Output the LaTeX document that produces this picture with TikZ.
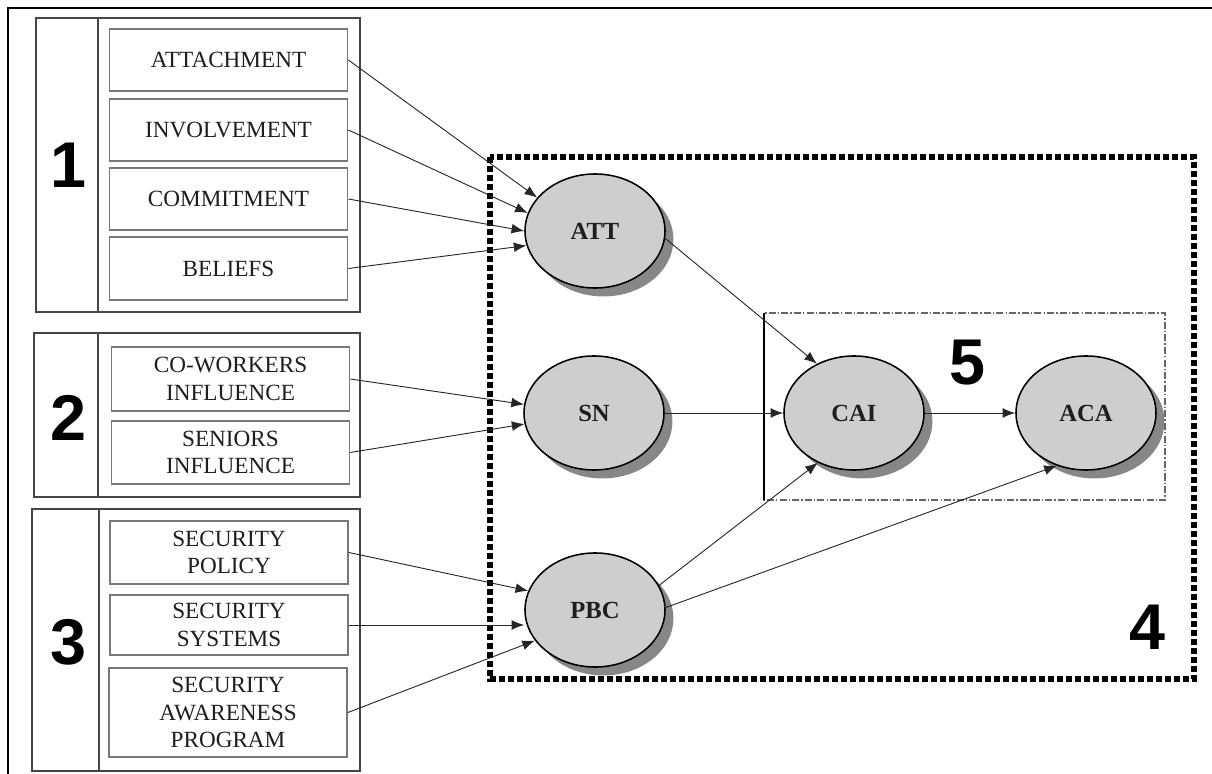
\documentclass[tikz,border=0pt]{standalone}
\usepackage{fontspec}
\setmainfont{Liberation Serif}
\newfontfamily\numfont{Liberation Sans}
\usetikzlibrary{arrows.meta,shapes.geometric,shadows}
\definecolor{framegray}{RGB}{70,70,70}
\definecolor{boxgray}{RGB}{120,120,120}
\definecolor{ovalfill}{RGB}{206,206,206}
\definecolor{shadegray}{RGB}{135,135,135}
\definecolor{textgray}{RGB}{30,30,30}
\tikzset{
  item/.style   = {draw=boxgray,line width=1.2pt,fill=white,minimum width=5.95cm,
                   align=center,font=\fontsize{16.5}{19.5}\selectfont,
                   text=textgray,inner sep=0pt},
  oval/.style   = {ellipse,draw=black,line width=1.1pt,fill=ovalfill,
                   minimum width=3.5cm,minimum height=2.85cm,inner sep=0pt,
                   font=\fontsize{17.5}{20}\selectfont\bfseries,text=textgray,
                   drop shadow={shadow xshift=6pt,shadow yshift=-6pt,
                                fill=shadegray,opacity=1}},
  grp/.style    = {draw=framegray,line width=1.3pt},
  num/.style    = {font=\numfont\bfseries\fontsize{46}{46}\selectfont},
  arrow/.style  = {-{Latex[length=9pt,width=7pt]},line width=0.65pt,color=black!85},
  outerbox/.style = {line width=4pt,dash pattern=on 4pt off 2.4pt},
  innerbox/.style = {line width=0.8pt,color=black!60,
                     dash pattern=on 5pt off 1.5pt on 1pt off 1.5pt},
}
\begin{document}
\begin{tikzpicture}[x=0.025cm,y=-0.025cm]
  \useasboundingbox (0,0) rectangle (1212,774);
  \draw[line width=1.5pt] (8,774) -- (8,8) -- (1212,8);
  % groups of antecedents
  \draw[grp] (36,18) rectangle (360,312);  \draw[grp] (98,18) -- (98,312);
  \draw[grp] (34,333) rectangle (360,497); \draw[grp] (98,333) -- (98,497);
  \draw[grp] (32,509) rectangle (360,771); \draw[grp] (99,509) -- (99,771);
  \node[num] (n1) at (68,165) {1};
  \node[num] (n2) at (68,418) {2};
  \node[num] (n3) at (68,642) {3};
  \node[item,minimum height=1.55cm] (attach)  at (228.5,60)  {ATTACHMENT};
  \node[item,minimum height=1.55cm] (involve) at (228.5,130) {INVOLVEMENT};
  \node[item,minimum height=1.55cm] (commit)  at (228.5,199) {COMMITMENT};
  \node[item,minimum height=1.57cm] (belief)  at (228.5,268.5) {BELIEFS};
  \node[item,minimum height=1.6cm]  (cowork)  at (230.5,379) {CO-WORKERS\\INFLUENCE};
  \node[item,minimum height=1.57cm] (senior)  at (230.5,452.5) {SENIORS\\INFLUENCE};
  \node[item,minimum height=1.57cm] (policy)  at (229,552.5) {SECURITY\\POLICY};
  \node[item,minimum height=1.5cm]  (system)  at (229,625) {SECURITY\\SYSTEMS};
  \node[item,minimum height=2.22cm] (program) at (228,712.5) {SECURITY\\AWARENESS\\PROGRAM};
  % model frames
  \draw[outerbox] (490,157) rectangle (1194,679);
  \draw[innerbox] (764,313) rectangle (1165,500);
  \draw[line width=0.8pt] (764,313) -- (764,500);
  \node[num] (n4) at (1147,627) {4};
  \node[num] (n5) at (967,363) {5};
  \node[oval] (att) at (595,231) {ATT};
  \node[oval] (sn)  at (594,413) {SN};
  \node[oval] (pbc) at (595,610) {PBC};
  \node[oval] (cai) at (854,413) {CAI};
  \node[oval] (aca) at (1086,413) {ACA};
  \foreach \src/\dst in {attach/att.150,involve/att.165,commit/att.180,belief/att.192,
                         cowork/sn.173,senior/sn.189,policy/pbc.164,program/pbc.207}
    \draw[arrow] (\src.east) -- (\dst);
  \draw[arrow] (system.east) -- (system.east -| pbc.west);
  \draw[arrow] (att.-6) -- (cai.127);
  \draw[arrow] (sn.east) -- (cai.west);
  \draw[arrow] (pbc.21) -- (cai.234);
  \draw[arrow] (pbc.2) -- (aca.241);
  \draw[arrow] (cai.east) -- (aca.west);
\end{tikzpicture}
\end{document}
